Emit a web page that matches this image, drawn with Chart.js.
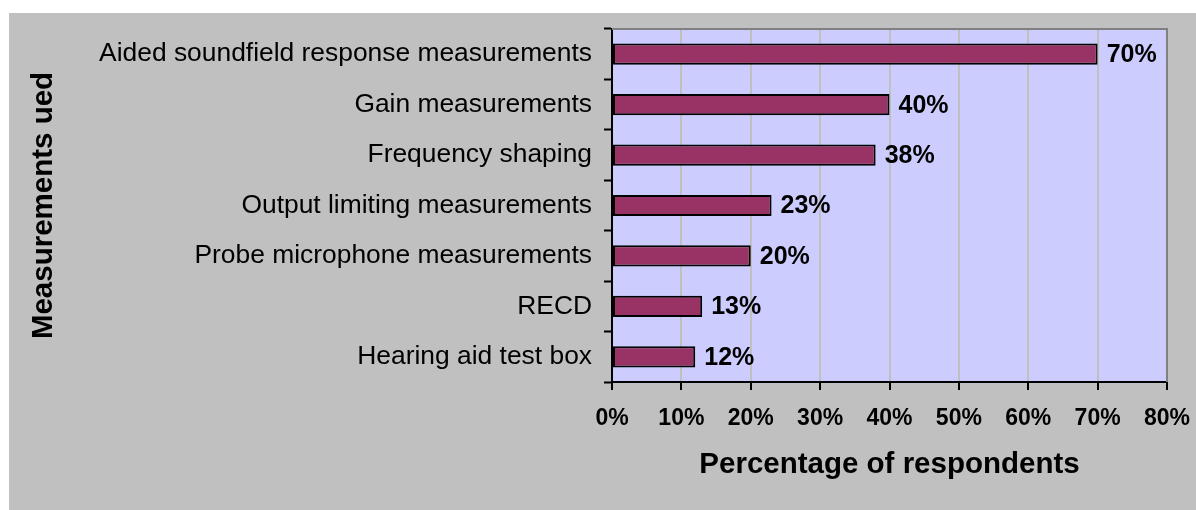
<!DOCTYPE html>
<html>
<head>
<meta charset="utf-8">
<title>Measurements used</title>
<script src="https://cdn.jsdelivr.net/npm/chart.js@4/dist/chart.umd.min.js"></script>
<style>
    body { margin: 0; background: #ffffff; }
    canvas { display: block; }
</style>
</head>
<body>
<canvas id="measureChart" width="1196" height="510"></canvas>
<script>
// Survey results - measurements used by respondents
const categories = [
    'Aided soundfield response measurements',
    'Gain measurements',
    'Frequency shaping',
    'Output limiting measurements',
    'Probe microphone measurements',
    'RECD',
    'Hearing aid test box'
];
const percentages = [70, 40, 38, 23, 20, 13, 12];
const tickValues = [0, 10, 20, 30, 40, 50, 60, 70, 80];

const FONT = "'Liberation Sans', Arial, sans-serif";

/**
 * Gray panel behind the chart plus the lavender plot area
 */
const panelBackground = {
    id: 'panelBackground',
    beforeDraw(chart) {
        const ctx = chart.ctx;
        const area = chart.chartArea;
        ctx.save();
        ctx.fillStyle = '#c0c0c0';
        ctx.fillRect(9, 13, chart.width - 9, chart.height - 13);
        ctx.fillStyle = '#ccccff';
        ctx.fillRect(area.left, area.top, area.right - area.left, area.bottom - area.top);
        ctx.restore();
    },
    beforeDatasetsDraw(chart) {
        // top and right edges of the plot area
        const ctx = chart.ctx;
        const area = chart.chartArea;
        ctx.save();
        ctx.strokeStyle = '#808080';
        ctx.lineWidth = 2;
        ctx.beginPath();
        ctx.moveTo(area.left, area.top);
        ctx.lineTo(area.right, area.top);
        ctx.lineTo(area.right, area.bottom);
        ctx.stroke();
        ctx.restore();
    }
};

/**
 * Percentage labels to the right of each bar
 */
const barValueLabels = {
    id: 'barValueLabels',
    afterDatasetsDraw(chart) {
        const ctx = chart.ctx;
        const meta = chart.getDatasetMeta(0);
        const values = chart.data.datasets[0].data;
        ctx.save();
        ctx.font = 'bold 25px ' + FONT;
        ctx.fillStyle = '#000000';
        ctx.textAlign = 'left';
        ctx.textBaseline = 'middle';
        meta.data.forEach((bar, i) => {
            ctx.fillText(values[i] + '%', bar.x + 9, bar.y + 1);
        });
        ctx.restore();
    }
};

const ctx = document.getElementById('measureChart');
new Chart(ctx, {
    type: 'bar',
    data: {
        labels: categories,
        datasets: [{
            data: percentages,
            backgroundColor: '#993366',
            borderColor: '#000000',
            borderWidth: 2,
            borderSkipped: false,
            barPercentage: 0.42,
            categoryPercentage: 1.0
        }]
    },
    options: {
        indexAxis: 'y',
        responsive: false,
        animation: false,
        layout: {
            padding: { left: 9, top: 29, right: 29, bottom: 0 }
        },
        plugins: {
            legend: { display: false },
            tooltip: { enabled: false }
        },
        scales: {
            x: {
                min: 0,
                max: 80,
                afterBuildTicks: function(scale) {
                    scale.ticks = tickValues.map(v => ({ value: v }));
                },
                afterFit: function(scale) {
                    scale.height = 128;
                    // keep the end labels from shrinking the plot
                    scale.paddingLeft = 0;
                    scale.paddingRight = 0;
                },
                grid: {
                    color: '#c0c0c0',
                    lineWidth: 2,
                    tickColor: '#000000',
                    tickWidth: 2,
                    tickLength: 8
                },
                border: { color: '#000000', width: 2 },
                ticks: {
                    color: '#000000',
                    padding: 15,
                    font: { family: FONT, size: 23, weight: 'bold' },
                    callback: value => value + '%'
                },
                title: {
                    display: true,
                    text: 'Percentage of respondents',
                    color: '#000000',
                    font: { family: FONT, size: 29.5, weight: 'bold' },
                    padding: { top: 0, bottom: 27 }
                }
            },
            y: {
                afterFit: function(scale) {
                    scale.width = 603;
                },
                grid: {
                    offset: true,
                    drawOnChartArea: false,
                    tickColor: '#000000',
                    tickWidth: 2,
                    tickLength: 8
                },
                border: { color: '#000000', width: 2 },
                ticks: {
                    color: '#000000',
                    padding: 12,
                    font: { family: FONT, size: 26.4 }
                },
                title: {
                    display: true,
                    text: 'Measurements ued',
                    color: '#000000',
                    font: { family: FONT, size: 29.5, weight: 'bold' },
                    padding: { top: 17, bottom: 0 }
                }
            }
        }
    },
    plugins: [panelBackground, barValueLabels]
});
</script>
</body>
</html>
